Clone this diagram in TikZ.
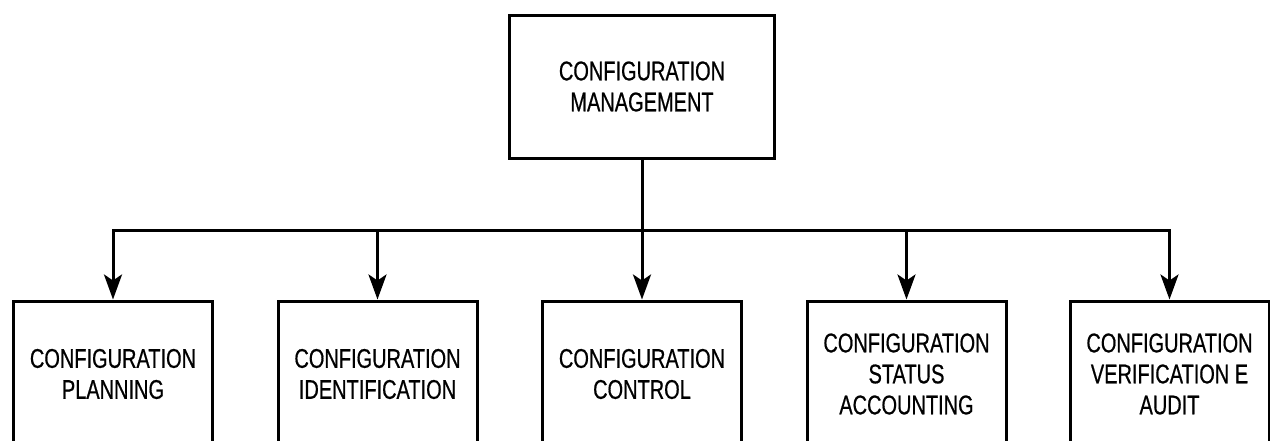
\documentclass[tikz,border=0pt]{standalone}
\usepackage{fontspec}
\setmainfont[FakeStretch=0.74, FakeBold=0.6]{Liberation Sans}
\usetikzlibrary{arrows.meta}
\tikzset{
  box/.style={draw=black, line width=3pt, fill=white, align=center,
    font=\fontsize{27}{31}\selectfont, text=black, inner sep=0pt},
  topbox/.style={box, minimum width=265pt, minimum height=143pt},
  leafbox/.style={box, minimum width=199pt, minimum height=146pt},
  link/.style={draw=black, line width=3pt},
  arrow/.style={link, -{Stealth[length=25pt, width=18pt, inset=6pt]}}
}
\begin{document}
\begin{tikzpicture}[x=1pt, y=-1pt]
\useasboundingbox (0,0) rectangle (1270,440);
\clip (0,0) rectangle (1270,440);
\fill[white] (0,0) rectangle (1270,440);
\node[topbox] (top) at (642,86.5) {CONFIGURATION\\MANAGEMENT};
\node[leafbox] (b1) at (113,374) {CONFIGURATION\\PLANNING};
\node[leafbox] (b2) at (377.5,374) {CONFIGURATION\\IDENTIFICATION};
\node[leafbox] (b3) at (642,374) {CONFIGURATION\\CONTROL};
\node[leafbox] (b4) at (906.5,374) {CONFIGURATION\\STATUS\\ACCOUNTING};
\node[leafbox] (b5) at (1169.5,374) {CONFIGURATION\\VERIFICATION E\\AUDIT};
\coordinate (bus) at (642,230);
\coordinate (j1) at (b1.north |- bus);
\coordinate (j2) at (b2.north |- bus);
\coordinate (j3) at (b3.north |- bus);
\coordinate (j4) at (b4.north |- bus);
\coordinate (j5) at (b5.north |- bus);
\draw[link] (top.south) -- (bus);
\draw[link, line cap=rect] (j1) -- (j5);
\draw[arrow] (j1) -- (b1.north);
\draw[arrow] (j2) -- (b2.north);
\draw[arrow] (j3) -- (b3.north);
\draw[arrow] (j4) -- (b4.north);
\draw[arrow] (j5) -- (b5.north);
\end{tikzpicture}
\end{document}
